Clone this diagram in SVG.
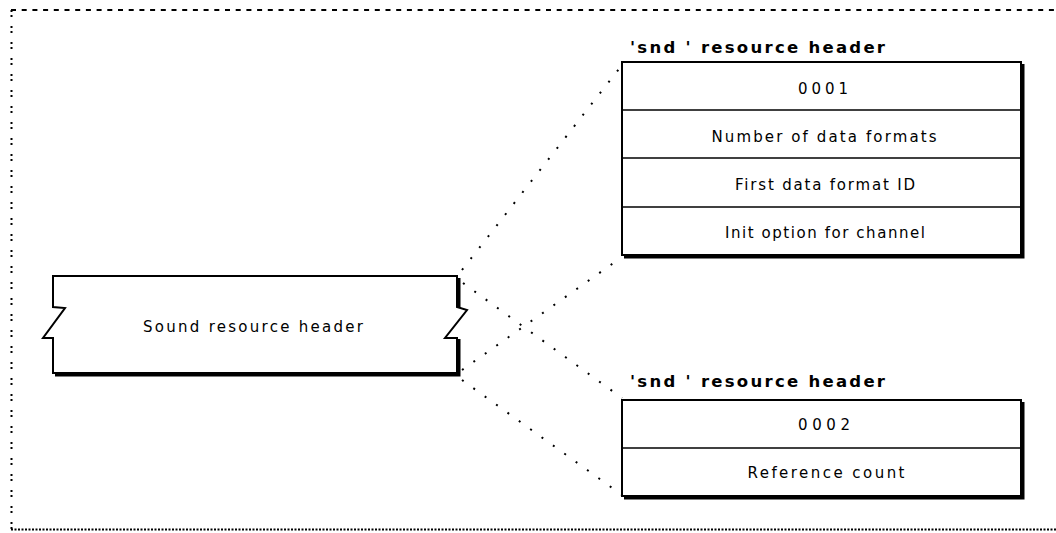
<svg xmlns="http://www.w3.org/2000/svg" width="1056" height="533" viewBox="0 0 1056 533">
<style>
.box{fill:#fff;stroke:#000;stroke-width:2}
.shadow{fill:none;stroke:#000;stroke-width:3}
.div{stroke:#000;stroke-width:1.5}
.t{font-family:"DejaVu Sans","Liberation Sans",sans-serif;font-size:15px;fill:#000}
.h{font-family:"DejaVu Sans","Liberation Sans",sans-serif;font-size:16.5px;font-weight:bold;fill:#000}
.conn{fill:none;stroke:#000;stroke-width:2;stroke-dasharray:2 12}
</style>
<rect width="1056" height="533" fill="#fff"/>
<g id="frame">
<line x1="11" y1="10" x2="1056" y2="10" stroke="#000" stroke-width="2" stroke-dasharray="5 5.7"/>
<line x1="11.5" y1="10" x2="11.5" y2="530" stroke="#000" stroke-width="2" stroke-dasharray="2 3 2 9"/>
<line x1="11" y1="529.5" x2="1056" y2="529.5" stroke="#000" stroke-width="2" stroke-dasharray="2 1.5"/>
</g>
<g id="connectors">
<line class="conn" x1="462" y1="270" x2="622" y2="65"/>
<line class="conn" x1="463" y1="283" x2="622" y2="398"/>
<line class="conn" x1="462" y1="370" x2="622" y2="257"/>
<line class="conn" x1="462" y1="380" x2="622" y2="495"/>
</g>
<g id="sound-resource-header">
<path class="shadow" d="M459 278 V307 M459 339 V375 H55"/>
<path class="box" d="M53 276 H457 V307 L467 310 L445 338 L457 338 V373 H53 V338 H43 L65 308 L53 307 Z"/>
<text class="t" x="253" y="332" text-anchor="middle" textLength="220" lengthAdjust="spacing">Sound resource header</text>
</g>
<g id="snd-header-1">
<text class="h" x="630" y="53" textLength="255" lengthAdjust="spacing">'snd ' resource header</text>
<path class="shadow" d="M1023 64 V257 H624"/>
<rect class="box" x="622" y="62" width="399" height="193"/>
<line class="div" x1="622" y1="110" x2="1021" y2="110"/>
<line class="div" x1="622" y1="158" x2="1021" y2="158"/>
<line class="div" x1="622" y1="207" x2="1021" y2="207"/>
<text class="t" x="823" y="94" text-anchor="middle" textLength="50" lengthAdjust="spacing">0001</text>
<text class="t" x="824" y="142" text-anchor="middle" textLength="225" lengthAdjust="spacing">Number of data formats</text>
<text class="t" x="825" y="190" text-anchor="middle" textLength="180" lengthAdjust="spacing">First data format ID</text>
<text class="t" x="825" y="238" text-anchor="middle" textLength="200" lengthAdjust="spacing">Init option for channel</text>
</g>
<g id="snd-header-2">
<text class="h" x="630" y="387" textLength="255" lengthAdjust="spacing">'snd ' resource header</text>
<path class="shadow" d="M1023 402 V498 H624"/>
<rect class="box" x="622" y="400" width="399" height="96"/>
<line class="div" x1="622" y1="448" x2="1021" y2="448"/>
<text class="t" x="824" y="430" text-anchor="middle" textLength="52" lengthAdjust="spacing">0002</text>
<text class="t" x="826" y="478" text-anchor="middle" textLength="157" lengthAdjust="spacing">Reference count</text>
</g>
</svg>
